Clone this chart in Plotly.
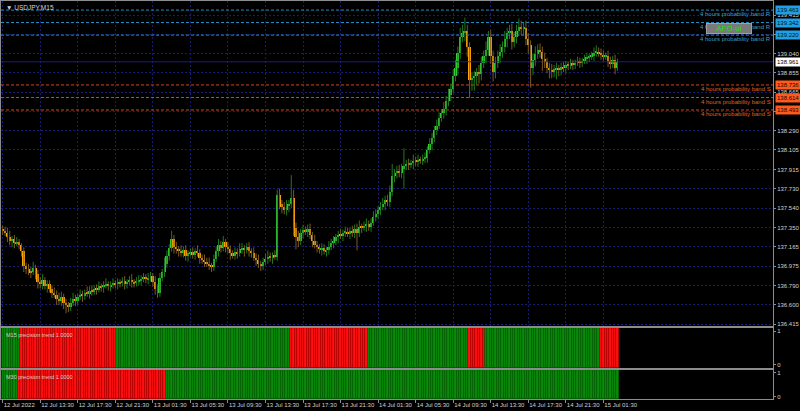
import plotly.graph_objects as go

# ---------------- data ----------------
first_open = 137.34
closes = [
    137.32, 137.30, 137.26, 137.22, 137.24, 137.20, 137.21, 137.18, 137.12, 136.98,
    136.95, 136.93, 136.92, 136.96, 136.90, 136.82, 136.80, 136.84, 136.78, 136.80,
    136.76, 136.72, 136.70, 136.66, 136.64, 136.68, 136.62, 136.60, 136.58, 136.62,
    136.66, 136.64, 136.68, 136.70, 136.69, 136.72, 136.71, 136.74, 136.73, 136.76,
    136.75, 136.78, 136.77, 136.79, 136.80, 136.78, 136.79, 136.81, 136.80, 136.82,
    136.81, 136.83, 136.80, 136.82, 136.84, 136.82, 136.81, 136.83, 136.84, 136.85,
    136.87, 136.85, 136.86, 136.88, 136.82, 136.76, 136.72, 136.86, 136.92, 137.00,
    137.08, 137.15, 137.24, 137.16, 137.14, 137.12, 137.10, 137.13, 137.08, 137.10,
    137.11, 137.09, 137.12, 137.10, 137.06, 137.04, 137.02, 137.00, 136.98, 136.97,
    137.05, 137.12, 137.18, 137.15, 137.21, 137.16, 137.14, 137.10, 137.08, 137.11,
    137.10, 137.14, 137.15, 137.13, 137.16, 137.12, 137.10, 137.06, 137.04, 137.00,
    136.98, 137.02, 137.05, 137.07, 137.06, 137.08, 137.07, 137.67, 137.58, 137.55,
    137.52, 137.56, 137.58, 137.64, 137.35, 137.26, 137.22, 137.30, 137.33, 137.31,
    137.34, 137.28, 137.22, 137.18, 137.16, 137.14, 137.15, 137.12, 137.13, 137.16,
    137.20, 137.22, 137.26, 137.28, 137.27, 137.30, 137.31, 137.29, 137.32, 137.30,
    137.34, 137.30, 137.36, 137.35, 137.37, 137.39, 137.36, 137.40, 137.45, 137.48,
    137.52, 137.55, 137.58, 137.62, 137.60, 137.70, 137.85, 137.88, 137.90, 137.88,
    137.92, 137.95, 137.97, 137.96, 137.98, 138.00, 137.99, 138.01, 138.00, 138.02,
    138.03, 138.10, 138.16, 138.22, 138.30, 138.34, 138.42, 138.46, 138.50, 138.58,
    138.64, 138.70, 138.82, 138.90, 139.05, 139.20, 139.24, 139.26, 139.10, 138.78,
    138.80, 138.82, 138.86, 138.84, 138.95, 139.02, 139.08, 139.20, 139.02, 138.86,
    138.95, 139.02, 139.06, 139.10, 139.18, 139.24, 139.26, 139.15, 139.20, 139.26,
    139.30, 139.28, 139.29, 139.18, 139.12, 138.90, 138.98, 139.04, 139.08, 139.06,
    138.99, 138.96, 138.90, 138.88, 138.86, 138.89, 138.90, 138.88, 138.91, 138.90,
    138.93, 138.92, 138.94, 138.93, 138.95, 138.96, 138.95, 138.97, 138.99, 139.00,
    139.01, 139.02, 139.05, 139.06, 139.04, 139.03, 139.01, 139.02, 138.97, 138.94,
    138.98, 138.90, 138.961,
]
# upper / lower wick lengths in pips (0.01)
upper_wick_pips = [
    3, 4, 5, 6, 3, 4, 5, 3, 2, 4,
    3, 5, 4, 6, 3, 4, 5, 6, 3, 4,
    4, 3, 5, 4, 6, 5, 3, 4, 3, 5,
    6, 4, 3, 5, 4, 3, 6, 4, 5, 3,
    4, 5, 3, 4, 6, 3, 4, 5, 3, 4,
    3, 4, 5, 3, 4, 6, 3, 4, 5, 4,
    4, 3, 5, 4, 3, 6, 4, 5, 3, 6,
    5, 4, 8, 4, 5, 3, 6, 4, 5, 3,
    4, 5, 3, 6, 4, 3, 5, 4, 6, 3,
    4, 5, 6, 4, 6, 3, 5, 4, 3, 5,
    4, 6, 5, 3, 4, 5, 3, 6, 4, 5,
    3, 4, 5, 6, 4, 3, 5, 5, 6, 4,
    5, 6, 4, 22, 8, 5, 6, 4, 5, 3,
    4, 5, 3, 6, 4, 3, 5, 4, 3, 6,
    4, 5, 3, 4, 6, 3, 5, 4, 3, 5,
    4, 5, 6, 3, 4, 5, 3, 4, 6, 5,
    4, 5, 6, 4, 5, 6, 12, 4, 5, 6,
    5, 17, 4, 5, 3, 6, 4, 5, 3, 4,
    5, 4, 6, 5, 4, 6, 5, 4, 7, 5,
    6, 5, 7, 8, 6, 9, 8, 13, 6, 5,
    6, 5, 4, 7, 6, 5, 8, 6, 7, 5,
    6, 5, 7, 6, 8, 5, 6, 7, 5, 6,
    8, 6, 5, 7, 6, 5, 6, 7, 5, 6,
    5, 6, 4, 5, 6, 4, 5, 3, 4, 5,
    4, 3, 5, 4, 3, 5, 4, 3, 4, 5,
    3, 4, 5, 6, 4, 5, 4, 3, 5, 4,
    4, 5, 3,
]
lower_wick_pips = [
    4, 3, 5, 4, 6, 5, 3, 4, 5, 6,
    5, 4, 6, 3, 5, 6, 4, 5, 3, 6,
    4, 5, 3, 6, 4, 5, 6, 8, 5, 4,
    3, 5, 4, 3, 6, 4, 3, 5, 4, 3,
    5, 3, 4, 5, 3, 4, 5, 3, 4, 5,
    4, 3, 5, 4, 3, 5, 4, 3, 4, 5,
    3, 4, 5, 3, 4, 6, 5, 4, 3, 5,
    4, 5, 3, 6, 4, 5, 3, 4, 5, 6,
    3, 4, 5, 3, 6, 4, 5, 3, 4, 5,
    4, 3, 5, 4, 3, 5, 4, 6, 3, 4,
    5, 3, 4, 6, 3, 5, 4, 3, 6, 4,
    5, 4, 3, 5, 4, 6, 3, 4, 5, 6,
    4, 5, 6, 4, 8, 12, 6, 4, 5, 3,
    5, 4, 6, 3, 5, 4, 6, 3, 5, 4,
    3, 5, 4, 6, 3, 5, 4, 3, 5, 4,
    5, 17, 4, 5, 3, 6, 4, 5, 3, 4,
    4, 5, 3, 6, 4, 5, 4, 6, 5, 4,
    5, 19, 4, 5, 3, 6, 4, 5, 3, 4,
    4, 5, 3, 6, 4, 5, 3, 4, 5, 6,
    5, 6, 4, 5, 7, 6, 5, 8, 9, 17,
    10, 12, 8, 9, 6, 5, 7, 6, 8, 9,
    6, 5, 7, 6, 5, 8, 6, 7, 5, 6,
    5, 6, 7, 6, 8, 19, 7, 6, 5, 6,
    12, 6, 5, 8, 6, 5, 10, 6, 5, 4,
    5, 4, 3, 5, 4, 3, 5, 4, 3, 5,
    4, 3, 5, 4, 3, 5, 4, 3, 6, 5,
    4, 6, 3,
]

# trend indicator runs: (state, number of bars); 1 = up (green), -1 = down (red)
m15_trend_runs = [(1, 8), (-1, 41), (1, 74), (-1, 33), (1, 43), (-1, 7), (1, 49), (-1, 8)]
m30_trend_runs = [(1, 7), (-1, 63), (1, 193)]

time_labels = ["12 Jul 2022", "12 Jul 13:30", "12 Jul 17:30", "12 Jul 21:30",
               "13 Jul 01:30", "13 Jul 05:30", "13 Jul 09:30", "13 Jul 13:30",
               "13 Jul 17:30", "13 Jul 21:30", "14 Jul 01:30", "14 Jul 05:30",
               "14 Jul 09:30", "14 Jul 13:30", "14 Jul 17:30", "14 Jul 21:30",
               "15 Jul 01:30"]
bars_per_label = 16

price_ticks = [136.415, 136.600, 136.790, 136.975, 137.165, 137.350, 137.540,
               137.730, 137.915, 138.105, 138.290, 138.480, 138.665, 138.855,
               139.040, 139.230, 139.415]

resistance_bands = [139.463, 139.342, 139.220]
support_bands = [138.736, 138.614, 138.493]
current_price = 138.961

# ---------------- derived ----------------
n = len(closes)
idx = list(range(n))
opens = [first_open] + closes[:-1]
highs = [max(o, c) + u / 100 for o, c, u in zip(opens, closes, upper_wick_pips)]
lows = [min(o, c) - d / 100 for o, c, d in zip(opens, closes, lower_wick_pips)]


def expand(runs):
    out = []
    for s, k in runs:
        out += [s] * k
    return out[:n]


m15 = expand(m15_trend_runs)
m30 = expand(m30_trend_runs)

FONT = "Liberation Sans, Arial, sans-serif"
TXT = "#d0d0d0"
GRID = "#1a1a6c"
FRAME = "#8c8c8c"

XR = [-0.72, 328.3]
YR = [136.396, 139.551]

fig = go.Figure()

# bid line and probability bands
fig.add_trace(go.Scatter(x=XR, y=[current_price] * 2, mode="lines", xaxis="x", yaxis="y",
                         line=dict(color="#1a1a8c", width=1), hoverinfo="skip"))
for v in resistance_bands:
    fig.add_trace(go.Scatter(x=XR, y=[v, v], mode="lines", xaxis="x", yaxis="y",
                             line=dict(color="#1f8fc4", width=1, dash="3px,2px"), hoverinfo="skip"))
for v in support_bands:
    fig.add_trace(go.Scatter(x=XR, y=[v, v], mode="lines", xaxis="x", yaxis="y",
                             line=dict(color="#d4461a", width=1, dash="3px,2px"), hoverinfo="skip"))

# wicks
for bull, col in [(True, "#1e7a1e"), (False, "#7a5a22")]:
    wx, wy = [], []
    for i in idx:
        if (closes[i] >= opens[i]) == bull:
            wx += [i, i, None]
            wy += [lows[i], highs[i], None]
    fig.add_trace(go.Scatter(x=wx, y=wy, mode="lines", xaxis="x", yaxis="y",
                             line=dict(color=col, width=1), hoverinfo="skip"))

# bodies
body_base = [min(o, c) for o, c in zip(opens, closes)]
body_h = [max(abs(c - o), 0.006) for o, c in zip(opens, closes)]
body_col = ["#33cc33" if c >= o else "#ffa500" for o, c in zip(opens, closes)]
fig.add_trace(go.Bar(x=idx, y=body_h, base=body_base, xaxis="x", yaxis="y",
                     marker=dict(color=body_col, line=dict(width=0)), width=0.85, hoverinfo="skip"))

# trend histograms
for trend, xa, ya in [(m15, "x2", "y2"), (m30, "x3", "y3")]:
    fig.add_trace(go.Bar(x=idx, y=[1.2] * n, base=[-0.1] * n, xaxis=xa, yaxis=ya,
                         marker=dict(color=["#0a8a0a" if s > 0 else "#ff1010" for s in trend],
                                     line=dict(width=0.6,
                                               color=["#056005" if s > 0 else "#b00000" for s in trend])),
                         width=1.0, hoverinfo="skip"))

tickvals_x = [k * bars_per_label for k in range(len(time_labels))]

xcommon = dict(range=XR, tickvals=tickvals_x, showgrid=True, gridcolor=GRID, griddash="2px,2px",
               gridwidth=1, zeroline=False, showline=True, linecolor=FRAME, mirror=True,
               linewidth=1, fixedrange=True)
ycommon = dict(side="right", showgrid=True, gridcolor=GRID, griddash="2px,2px", zeroline=False,
               showline=True, linecolor=FRAME, mirror=True, linewidth=1,
               ticks="outside", ticklen=2, tickcolor=FRAME, automargin=False,
               tickfont=dict(family=FONT, size=6, color=TXT))

D3 = [0.0, 0.0729]
D2 = [0.0779, 0.1784]
D1 = [0.1834, 1.0]

fig.update_layout(
    width=800, height=411,
    margin=dict(l=1, r=27, t=1, b=12, autoexpand=False),
    paper_bgcolor="black", plot_bgcolor="black",
    showlegend=False, bargap=0, barmode="overlay",
    xaxis=dict(**xcommon, domain=[0, 1], anchor="y", showticklabels=False, matches="x3",
               rangeslider=dict(visible=False)),
    yaxis=dict(**ycommon, domain=D1, range=YR, tickvals=price_ticks,
               ticktext=[f"{v:.3f}" for v in price_ticks], anchor="x"),
    xaxis2=dict(**xcommon, domain=[0, 1], anchor="y2", showticklabels=False, matches="x3"),
    yaxis2=dict(**ycommon, domain=D2, range=[-0.1, 1.1], tickvals=[0, 1], ticktext=["0", "1"],
                anchor="x2"),
    xaxis3=dict(**xcommon, domain=[0, 1], anchor="y3", ticktext=time_labels,
                ticks="outside", ticklen=3, tickcolor=FRAME, ticklabelposition="outside right",
                tickangle=0, automargin=False,
                tickfont=dict(family=FONT, size=6, color=TXT)),
    yaxis3=dict(**ycommon, domain=D3, range=[-0.1, 1.1], tickvals=[0, 1], ticktext=["0", "1"],
                anchor="x3"),
)
fig.update_layout(yaxis2_showgrid=False, yaxis3_showgrid=False)

ann = []
# title and indicator labels
ann.append(dict(xref="paper", yref="paper", x=0.004, y=1.0, xanchor="left", yanchor="top",
                yshift=-1, text="▼ USDJPY,M15", showarrow=False,
                font=dict(family=FONT, size=6.5, color=TXT)))
ann.append(dict(xref="paper", yref="paper", x=0.004, y=D2[1], xanchor="left", yanchor="top",
                yshift=-2, text="M15 precision trend 1.0000", showarrow=False,
                font=dict(family=FONT, size=5.5, color=TXT)))
ann.append(dict(xref="paper", yref="paper", x=0.004, y=D3[1], xanchor="left", yanchor="top",
                yshift=-2, text="M30 precision trend 1.0000", showarrow=False,
                font=dict(family=FONT, size=5.5, color=TXT)))

# band labels
for v in resistance_bands:
    ann.append(dict(xref="paper", yref="y", x=1, y=v, xanchor="right", yanchor="middle", yshift=-4,
                    text="4 hours probability band R", showarrow=False,
                    font=dict(family=FONT, size=6, color="#3a9fd4")))
for v in support_bands:
    ann.append(dict(xref="paper", yref="y", x=1, y=v, xanchor="right", yanchor="middle", yshift=-4,
                    text="4 hours probability band S", showarrow=False,
                    font=dict(family=FONT, size=6, color="#e0601c")))

# price boxes on the right axis
for v in resistance_bands:
    ann.append(dict(xref="paper", yref="y", x=1, y=v, xanchor="left", yanchor="middle", xshift=2,
                    text=f"{v:.3f}", showarrow=False, bgcolor="#1ea0e6", borderpad=1,
                    font=dict(family=FONT, size=6, color="#001020")))
for v in support_bands:
    ann.append(dict(xref="paper", yref="y", x=1, y=v, xanchor="left", yanchor="middle", xshift=2,
                    text=f"{v:.3f}", showarrow=False, bgcolor="#ff5a1e", borderpad=1,
                    font=dict(family=FONT, size=6, color="#200800")))
ann.append(dict(xref="paper", yref="y", x=1, y=current_price, xanchor="left", yanchor="middle",
                xshift=2, text=f"{current_price:.3f}", showarrow=False, bgcolor="#ffffff",
                borderpad=1, font=dict(family=FONT, size=6, color="#000000")))

# grey button
ann.append(dict(xref="paper", yref="paper", x=(706 - 1) / 772, y=1 - 22 / 398, xanchor="left",
                yanchor="top", text="AFO-ui", showarrow=False, bgcolor="#7a7a7a",
                bordercolor="#a0a0a0", borderwidth=1, width=44, height=9, borderpad=0,
                font=dict(family=FONT, size=8, color="#22dd22")))

fig.update_layout(annotations=ann)

fig.write_html("out.html", config={"displayModeBar": False},
               post_script="document.body.style.margin='0';")
